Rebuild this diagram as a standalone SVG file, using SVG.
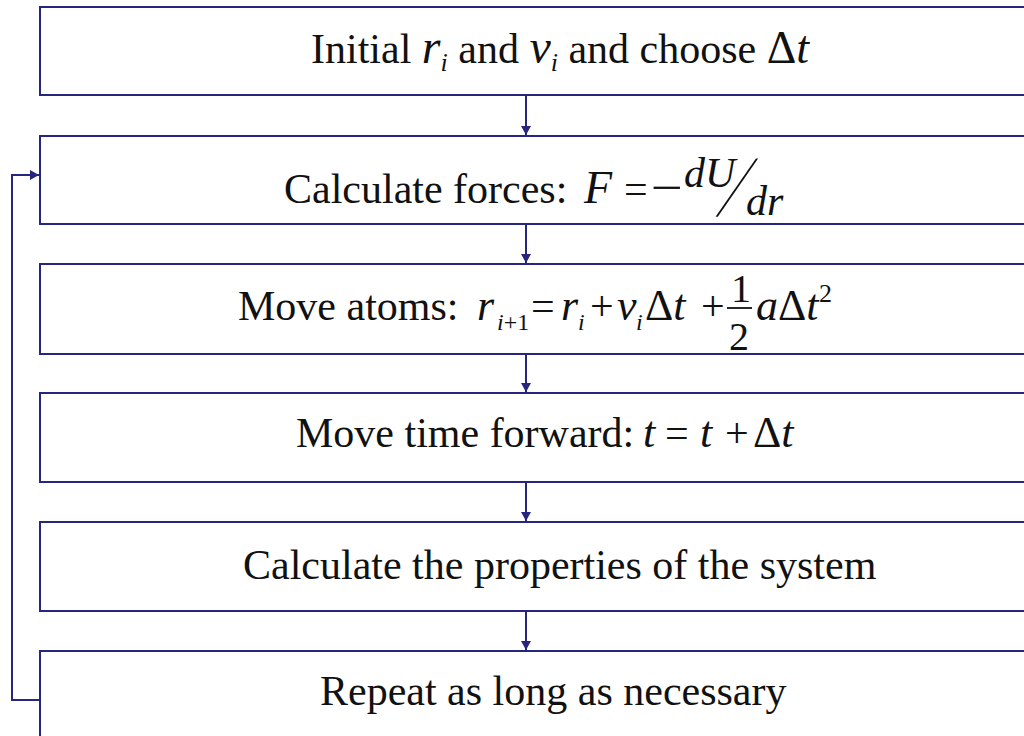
<svg xmlns="http://www.w3.org/2000/svg" width="1024" height="736" viewBox="0 0 1024 736">
<style>
.box{fill:#ffffff;stroke:#262680;stroke-width:2}
.con{fill:none;stroke:#262680;stroke-width:2}
text{font-family:"Liberation Serif","Times New Roman",serif;fill:#111111}
.t{font-size:42px}
.m{font-style:italic}
</style>
<defs>
<marker id="ah" markerWidth="10" markerHeight="10" refX="9" refY="5" orient="auto" markerUnits="userSpaceOnUse">
<path d="M0,0 L9,5 L0,10 z" fill="#262680"/>
</marker>
</defs>
<rect width="1024" height="736" fill="#ffffff"/>
<g id="n1">
<rect class="box" x="40" y="7" width="1010" height="88"/>
<text class="t" x="311" y="63">Initial <tspan class="m" font-size="48">r</tspan><tspan class="m" font-size="26" dy="8">i</tspan><tspan dy="-8"> and  </tspan><tspan class="m" font-size="48">v</tspan><tspan class="m" font-size="26" dy="8">i</tspan><tspan dy="-8"> and choose </tspan><tspan font-size="46">Δ</tspan><tspan class="m" font-size="46">t</tspan></text>
</g>
<g id="n2">
<rect class="box" x="40" y="136" width="1010" height="88"/>
<text class="t" x="284" y="203">Calculate forces:</text>
<text class="m" x="584" y="203" font-size="46">F</text>
<text x="624" y="203" font-size="42">=</text>
<text x="651" y="203" font-size="46" textLength="32" lengthAdjust="spacingAndGlyphs">−</text>
<text class="m" x="684" y="187" font-size="42">dU</text>
<text transform="translate(716,216) skewX(-27) scale(1,1.9)" font-size="46">/</text>
<text class="m" x="746" y="215" font-size="42">dr</text>
</g>
<g id="n3">
<rect class="box" x="40" y="264" width="1010" height="90"/>
<text class="t" x="238" y="320">Move atoms:</text>
<text class="m" x="477" y="320" font-size="44">r</text>
<text x="497" y="330" font-size="24"><tspan class="m">i</tspan>+1</text>
<text x="531" y="320" font-size="42">=</text>
<text class="m" x="561" y="320" font-size="44">r</text>
<text class="m" x="578" y="330" font-size="24">i</text>
<text x="590" y="320" font-size="42">+</text>
<text class="m" x="617" y="320" font-size="44">v</text>
<text class="m" x="636" y="330" font-size="24">i</text>
<text x="645" y="320" font-size="44">Δ<tspan class="m">t</tspan></text>
<text x="701" y="320" font-size="42">+</text>
<text x="731" y="302" font-size="40">1</text>
<line x1="727" y1="308" x2="752" y2="308" stroke="#111111" stroke-width="1.8"/>
<text x="729" y="350" font-size="40">2</text>
<text x="756" y="320" font-size="44"><tspan class="m">a</tspan>Δ<tspan class="m">t</tspan></text>
<text x="819" y="302" font-size="26">2</text>
</g>
<g id="n4">
<rect class="box" x="40" y="393" width="1010" height="89"/>
<text class="t" x="296" y="447">Move time forward:</text>
<text class="m" x="643" y="447" font-size="44">t</text>
<text x="665" y="447" font-size="42">=</text>
<text class="m" x="700" y="447" font-size="44">t</text>
<text x="725" y="447" font-size="42">+</text>
<text x="753" y="447" font-size="44">Δ<tspan class="m">t</tspan></text>
</g>
<g id="n5">
<rect class="box" x="40" y="522" width="1010" height="89"/>
<text class="t" x="243" y="579">Calculate the properties of the system</text>
</g>
<g id="n6">
<rect class="box" x="40" y="651" width="1010" height="100"/>
<text class="t" x="320" y="705">Repeat as long as necessary</text>
</g>
<g id="connectors">
<line class="con" x1="526" y1="96" x2="526" y2="135" marker-end="url(#ah)"/>
<line class="con" x1="526" y1="225" x2="526" y2="263" marker-end="url(#ah)"/>
<line class="con" x1="526" y1="355" x2="526" y2="392" marker-end="url(#ah)"/>
<line class="con" x1="526" y1="483" x2="526" y2="521" marker-end="url(#ah)"/>
<line class="con" x1="526" y1="612" x2="526" y2="650" marker-end="url(#ah)"/>
<polyline class="con" points="40,700 12,700 12,175 39,175" marker-end="url(#ah)"/>
</g>
</svg>
